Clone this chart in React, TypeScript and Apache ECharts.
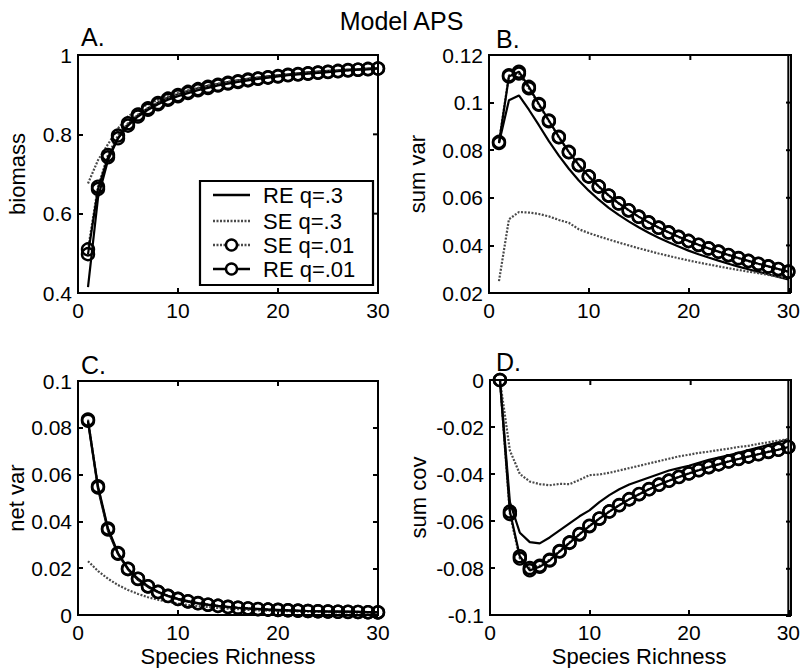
import React, { useEffect, useRef } from "react";
import * as echarts from "echarts";

const X = Array.from({ length: 30 }, (_, i) => i + 1);
const seriesNames = ["RE q=.3", "SE q=.3", "SE q=.01", "RE q=.01"];
const xTicks = { min: 0, max: 30, interval: 10 };
const xTickValues = [0, 10, 20, 30];

// Panel A: biomass
const A_RE3 = [0.415, 0.64, 0.735, 0.79, 0.825, 0.848, 0.866, 0.88, 0.892, 0.901, 0.909, 0.916, 0.922, 0.927, 0.932, 0.936, 0.94, 0.943, 0.946, 0.949, 0.951, 0.954, 0.956, 0.958, 0.96, 0.961, 0.963, 0.964, 0.966, 0.967];
const A_SE3 = [0.676, 0.735, 0.775, 0.815, 0.845, 0.863, 0.876, 0.887, 0.896, 0.904, 0.911, 0.917, 0.923, 0.928, 0.932, 0.936, 0.94, 0.943, 0.946, 0.948, 0.951, 0.953, 0.955, 0.957, 0.959, 0.961, 0.962, 0.964, 0.965, 0.967];
const A_SE01 = [0.51, 0.668, 0.748, 0.797, 0.828, 0.85, 0.866, 0.879, 0.89, 0.899, 0.907, 0.914, 0.92, 0.925, 0.93, 0.934, 0.938, 0.941, 0.944, 0.947, 0.95, 0.952, 0.954, 0.956, 0.958, 0.96, 0.962, 0.963, 0.965, 0.966];
const A_RE01 = [0.498, 0.662, 0.742, 0.79, 0.822, 0.845, 0.862, 0.876, 0.887, 0.896, 0.904, 0.911, 0.917, 0.923, 0.928, 0.932, 0.936, 0.94, 0.943, 0.946, 0.949, 0.951, 0.953, 0.955, 0.957, 0.959, 0.961, 0.963, 0.964, 0.966];

// Panel B: sum var
const B_RE3 = [0.083, 0.101, 0.103, 0.097, 0.0905, 0.0838, 0.0777, 0.0722, 0.0673, 0.063, 0.0592, 0.0558, 0.0528, 0.0501, 0.0476, 0.0453, 0.0432, 0.0413, 0.0395, 0.0378, 0.0363, 0.0349, 0.0336, 0.0323, 0.0311, 0.03, 0.0289, 0.0279, 0.0268, 0.0257];
const B_SE3 = [0.025, 0.051, 0.054, 0.0538, 0.0532, 0.0522, 0.0507, 0.0495, 0.0468, 0.0452, 0.0438, 0.0425, 0.0412, 0.04, 0.0388, 0.0377, 0.0366, 0.0356, 0.0346, 0.0337, 0.0328, 0.032, 0.0312, 0.0304, 0.0297, 0.029, 0.0283, 0.0276, 0.0269, 0.0262];
const B_SE01 = [0.0835, 0.1115, 0.1122, 0.106, 0.0991, 0.0922, 0.0854, 0.0791, 0.0737, 0.0689, 0.0647, 0.0609, 0.0576, 0.0547, 0.052, 0.0496, 0.0474, 0.0454, 0.0435, 0.0418, 0.0402, 0.0387, 0.0373, 0.0359, 0.0346, 0.0334, 0.0322, 0.0311, 0.03, 0.0289];
const B_RE01 = [0.083, 0.111, 0.113, 0.1066, 0.0994, 0.0925, 0.0856, 0.0793, 0.0738, 0.069, 0.0648, 0.061, 0.0577, 0.0548, 0.0521, 0.0497, 0.0475, 0.0455, 0.0436, 0.0419, 0.0403, 0.0388, 0.0374, 0.036, 0.0347, 0.0335, 0.0323, 0.0312, 0.0301, 0.029];

// Panel C: net var
const C_RE3 = [0.0825, 0.054, 0.036, 0.026, 0.0195, 0.015, 0.012, 0.0097, 0.008, 0.0067, 0.0057, 0.0049, 0.0043, 0.0038, 0.0034, 0.003, 0.0027, 0.0025, 0.0023, 0.0021, 0.002, 0.0018, 0.0017, 0.0016, 0.0015, 0.0014, 0.0013, 0.0013, 0.0012, 0.0011];
const C_SE3 = [0.023, 0.0188, 0.0155, 0.0128, 0.0107, 0.009, 0.0076, 0.0065, 0.0056, 0.0049, 0.0043, 0.0038, 0.0034, 0.003, 0.0027, 0.0025, 0.0022, 0.002, 0.0019, 0.0017, 0.0016, 0.0015, 0.0014, 0.0013, 0.0012, 0.0011, 0.0011, 0.001, 0.001, 0.0009];
const C_SE01 = [0.0835, 0.0545, 0.0365, 0.0262, 0.0196, 0.0154, 0.0122, 0.0098, 0.0081, 0.0068, 0.0058, 0.005, 0.0044, 0.0039, 0.0034, 0.0031, 0.0028, 0.0025, 0.0023, 0.0021, 0.002, 0.0018, 0.0017, 0.0016, 0.0015, 0.0014, 0.0013, 0.0013, 0.0012, 0.0011];
const C_RE01 = [0.083, 0.055, 0.037, 0.0265, 0.0198, 0.0155, 0.0123, 0.0099, 0.0082, 0.0069, 0.0059, 0.0051, 0.0044, 0.0039, 0.0035, 0.0031, 0.0028, 0.0026, 0.0023, 0.0022, 0.002, 0.0019, 0.0017, 0.0016, 0.0015, 0.0014, 0.0014, 0.0013, 0.0012, 0.0012];

// Panel D: sum cov
const D_RE3 = [0, -0.052, -0.065, -0.069, -0.0695, -0.067, -0.064, -0.061, -0.058, -0.0555, -0.052, -0.049, -0.0465, -0.0445, -0.043, -0.0415, -0.04, -0.0385, -0.0375, -0.0365, -0.0352, -0.034, -0.033, -0.032, -0.031, -0.0298, -0.0287, -0.0276, -0.0265, -0.0252];
const D_SE3 = [0, -0.03, -0.04, -0.0432, -0.0443, -0.0448, -0.0442, -0.0443, -0.0425, -0.0405, -0.0402, -0.0395, -0.0385, -0.0375, -0.0365, -0.0355, -0.0345, -0.0335, -0.0325, -0.0318, -0.031, -0.0305, -0.0298, -0.0292, -0.0285, -0.028, -0.0272, -0.0265, -0.0258, -0.0252];
const D_SE01 = [0, -0.057, -0.076, -0.08, -0.079, -0.0765, -0.0728, -0.0691, -0.0655, -0.062, -0.0589, -0.0559, -0.0532, -0.0507, -0.0485, -0.0464, -0.0445, -0.0428, -0.0412, -0.0397, -0.0383, -0.037, -0.0358, -0.0346, -0.0335, -0.0325, -0.0315, -0.0305, -0.0296, -0.0285];
const D_RE01 = [0, -0.056, -0.075, -0.081, -0.0795, -0.0768, -0.073, -0.0693, -0.0657, -0.0622, -0.059, -0.056, -0.0533, -0.0508, -0.0486, -0.0465, -0.0446, -0.0429, -0.0413, -0.0398, -0.0384, -0.0371, -0.0359, -0.0347, -0.0336, -0.0326, -0.0316, -0.0306, -0.0297, -0.0285];

const panelLetters = ["A.", "B.", "C.", "D."];
const yNames = ["biomass", "sum var", "net var", "sum cov"];
const yRanges = [
  { min: 0.4, max: 1, interval: 0.2 },
  { min: 0.02, max: 0.12, interval: 0.02 },
  { min: 0, max: 0.1, interval: 0.02 },
  { min: -0.1, max: 0, interval: 0.02 },
];
const yTickValues = [
  [0.4, 0.6, 0.8, 1],
  [0.02, 0.04, 0.06, 0.08, 0.1, 0.12],
  [0, 0.02, 0.04, 0.06, 0.08, 0.1],
  [-0.1, -0.08, -0.06, -0.04, -0.02, 0],
];
const panelData = [
  [A_RE3, A_SE3, A_SE01, A_RE01],
  [B_RE3, B_SE3, B_SE01, B_RE01],
  [C_RE3, C_SE3, C_SE01, C_RE01],
  [D_RE3, D_SE3, D_SE01, D_RE01],
];

const FONT = "Liberation Sans, Arial, Helvetica, sans-serif";
const DOT_COLOR = "#4a4a4a";
const DOT_TYPE = [2, 1.5];

export default function App() {
  const ref = useRef<HTMLDivElement>(null);
  useEffect(() => {
    if (!ref.current) return;
    const chart = echarts.init(ref.current, undefined, { renderer: "svg" });

    const boxes = [
      { left: 78, top: 55, width: 300, height: 238 },
      { left: 489, top: 55, width: 302, height: 238 },
      { left: 78, top: 381, width: 300, height: 235 },
      { left: 490, top: 380, width: 301, height: 236 },
    ];
    const grids = boxes.map((b) => ({ ...b, show: true, borderColor: "#000", borderWidth: 2 }));
    const nameGaps = [50, 61, 49, 61];
    const letterPos = [
      [81, 24],
      [496, 26],
      [81, 352],
      [496, 349],
    ];

    const xAxis: any[] = [];
    const yAxis: any[] = [];
    for (let g = 0; g < 4; g++) {
      xAxis.push({
        type: "value",
        gridIndex: g,
        position: "bottom",
        ...xTicks,
        axisLine: { show: true, onZero: false, lineStyle: { color: "#000", width: 2 } },
        axisTick: { show: true, inside: true, length: 5, lineStyle: { color: "#000", width: 2 } },
        splitLine: { show: false },
        axisLabel: { color: "#000", fontSize: 21, fontFamily: FONT, margin: 7 },
        name: g >= 2 ? "Species Richness" : "",
        nameLocation: "middle",
        nameGap: 30,
        nameTextStyle: { color: "#000", fontSize: 22, fontFamily: FONT },
      });
      yAxis.push({
        type: "value",
        gridIndex: g,
        position: "left",
        ...yRanges[g],
        axisLine: { show: true, onZero: false, lineStyle: { color: "#000", width: 2 } },
        axisTick: { show: true, inside: true, length: 5, lineStyle: { color: "#000", width: 2 } },
        splitLine: { show: false },
        axisLabel: { color: "#000", fontSize: 21, fontFamily: FONT, margin: 6 },
        name: yNames[g],
        nameLocation: "middle",
        nameRotate: 90,
        nameGap: nameGaps[g],
        nameTextStyle: { color: "#000", fontSize: 22, fontFamily: FONT },
      });
    }

    const styles = [
      { lineStyle: { color: "#000", width: 2.2, type: "solid" }, symbol: "none" },
      { lineStyle: { color: DOT_COLOR, width: 2.2, type: DOT_TYPE }, symbol: "none" },
      { lineStyle: { color: DOT_COLOR, width: 2.2, type: DOT_TYPE }, symbol: "circle" },
      { lineStyle: { color: "#000", width: 2.2, type: "solid" }, symbol: "circle" },
    ];

    const series: any[] = [];
    for (let g = 0; g < 4; g++) {
      for (let s = 0; s < 4; s++) {
        const st = styles[s];
        series.push({
          type: "line",
          name: seriesNames[s],
          xAxisIndex: g,
          yAxisIndex: g,
          data: X.map((x, i) => [x, panelData[g][s][i]]),
          symbol: st.symbol,
          symbolSize: 12,
          showSymbol: st.symbol !== "none",
          lineStyle: st.lineStyle,
          itemStyle: { color: "rgba(0,0,0,0)", borderColor: "#000", borderWidth: 2.4 },
          emphasis: { disabled: true },
          z: 2 + s,
        });
      }
    }

    // legend drawn as graphic (box, samples, texts)
    const legBox = { x: 200, y: 181, w: 173, h: 104 };
    const rowY = [195, 221, 245, 269];
    const sampleX0 = 213;
    const sampleX1 = 250;
    const graphic: any[] = [
      {
        type: "rect",
        shape: { x: legBox.x, y: legBox.y, width: legBox.w, height: legBox.h },
        style: { fill: "#fff", stroke: "#000", lineWidth: 2.2 },
        z: 20,
      },
    ];
    seriesNames.forEach((nm, i) => {
      const st = styles[i];
      const dashed = st.lineStyle.type !== "solid";
      graphic.push({
        type: "line",
        shape: { x1: sampleX0, y1: rowY[i], x2: sampleX1, y2: rowY[i] },
        style: dashed
          ? { stroke: st.lineStyle.color, lineWidth: 2.4, lineDash: DOT_TYPE }
          : { stroke: st.lineStyle.color, lineWidth: 2.4 },
        z: 21,
      });
      if (st.symbol === "circle") {
        graphic.push({
          type: "circle",
          shape: { cx: (sampleX0 + sampleX1) / 2, cy: rowY[i], r: 5.5 },
          style: { fill: "#fff", stroke: "#000", lineWidth: 2.4 },
          z: 22,
        });
      }
      graphic.push({
        type: "text",
        x: 263,
        y: rowY[i],
        style: { text: nm, fill: "#000", font: `22px ${FONT}`, textVerticalAlign: "middle" },
        z: 22,
      });
    });

    panelLetters.forEach((t, i) => {
      graphic.push({
        type: "text",
        x: letterPos[i][0],
        y: letterPos[i][1],
        style: { text: t, fill: "#000", font: `25px ${FONT}`, textVerticalAlign: "top" },
        z: 10,
      });
    });

    // box frame (top and right edges) with inward ticks, laid out on each grid's box
    boxes.forEach((b, g) => {
      const x0 = b.left;
      const x1 = b.left + b.width;
      const y0 = b.top;
      const y1 = b.top + b.height;
      const yr = yRanges[g];
      const pts: number[][] = [
        [x0, y0],
        [x1, y0],
        [x1, y1],
      ];
      graphic.push({
        type: "polyline",
        shape: { points: pts },
        style: { stroke: "#000", lineWidth: 2, fill: null },
        z: 40,
      });
      xTickValues.forEach((xv) => {
        const px = x0 + ((xv - xTicks.min) / (xTicks.max - xTicks.min)) * b.width;
        graphic.push({
          type: "polyline",
          shape: { points: [[px, y0], [px, y0 + 5]] },
          style: { stroke: "#000", lineWidth: 2, fill: null },
          z: 40,
        });
      });
      yTickValues[g].forEach((yv) => {
        const py = y1 - ((yv - yr.min) / (yr.max - yr.min)) * b.height;
        graphic.push({
          type: "polyline",
          shape: { points: [[x1, py], [x1 - 5, py]] },
          style: { stroke: "#000", lineWidth: 2, fill: null },
          z: 40,
        });
      });
    });

    chart.setOption({
      animation: false,
      title: {
        text: "Model APS",
        left: "center",
        top: 3,
        textStyle: { color: "#000", fontSize: 25, fontWeight: "normal", fontFamily: FONT },
      },
      grid: grids,
      xAxis,
      yAxis,
      series,
      graphic,
    });

    return () => chart.dispose();
  }, []);
  return (
    <div
      ref={ref}
      style={{ position: "fixed", left: 0, top: 0, width: 803, height: 668, background: "#fff" }}
    />
  );
}
